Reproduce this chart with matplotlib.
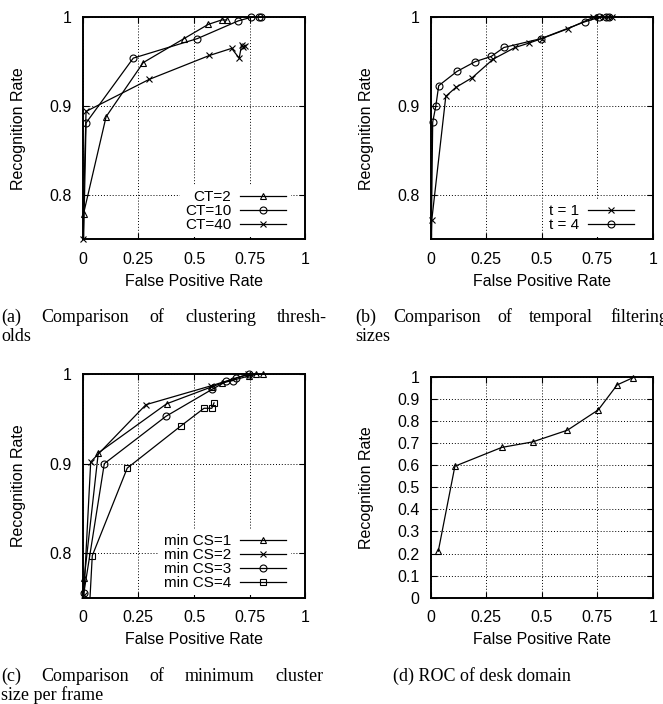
import matplotlib
matplotlib.use("Agg")
import matplotlib.pyplot as plt
from matplotlib.lines import Line2D
import numpy as np

# ---------------- data ----------------
# (a) clustering thresholds
ct2_x = [0.0, 0.004, 0.105, 0.272, 0.455, 0.564, 0.624, 0.647]
ct2_y = [0.70, 0.779, 0.888, 0.949, 0.976, 0.992, 0.997, 0.997]
ct10_x = [0.0, 0.015, 0.227, 0.515, 0.699, 0.757, 0.790, 0.802]
ct10_y = [0.70, 0.881, 0.954, 0.976, 0.996, 1.0, 1.0, 1.0]
ct40_x = [0.0, 0.015, 0.298, 0.569, 0.669, 0.703, 0.714, 0.722, 0.728]
ct40_y = [0.75, 0.894, 0.930, 0.957, 0.965, 0.954, 0.969, 0.966, 0.968]

# (b) temporal filtering sizes
t1_x = [0.0, 0.005, 0.068, 0.113, 0.187, 0.282, 0.380, 0.443, 0.500, 0.617, 0.733,
        0.760, 0.780, 0.800, 0.815]
t1_y = [0.70, 0.772, 0.911, 0.921, 0.932, 0.953, 0.966, 0.971, 0.976, 0.987, 1.0,
        1.0, 1.0, 1.0, 1.0]
t4_x = [0.0, 0.009, 0.023, 0.036, 0.118, 0.200, 0.273, 0.330, 0.497, 0.695, 0.760,
        0.790, 0.805]
t4_y = [0.70, 0.882, 0.900, 0.923, 0.939, 0.950, 0.956, 0.966, 0.976, 0.995, 1.0,
        1.0, 1.0]

# (c) minimum cluster size per frame
cs1_x = [0.007, 0.070, 0.377, 0.580, 0.624, 0.745, 0.780, 0.810]
cs1_y = [0.772, 0.912, 0.967, 0.986, 0.990, 0.998, 1.0, 1.0]
cs2_x = [0.005, 0.036, 0.284, 0.575, 0.744]
cs2_y = [0.753, 0.902, 0.966, 0.987, 1.0]
cs3_x = [0.005, 0.097, 0.374, 0.580, 0.645, 0.675, 0.690, 0.745]
cs3_y = [0.755, 0.900, 0.953, 0.983, 0.992, 0.993, 0.996, 1.0]
cs4_x = [0.022, 0.043, 0.200, 0.440, 0.545, 0.580, 0.590]
cs4_y = [0.700, 0.797, 0.895, 0.942, 0.962, 0.962, 0.968]

# (d) ROC of desk domain
desk_x = [0.034, 0.109, 0.320, 0.459, 0.616, 0.755, 0.840, 0.910]
desk_y = [0.21, 0.595, 0.68, 0.705, 0.758, 0.85, 0.963, 0.995]

x_ticks = [0, 0.25, 0.5, 0.75, 1]
x_tick_labels = ["0", "0.25", "0.5", "0.75", "1"]
y_ticks_top = [0.8, 0.9, 1.0]
y_tick_labels_top = ["0.8", "0.9", "1"]
y_ticks_d = [0, 0.1, 0.2, 0.3, 0.4, 0.5, 0.6, 0.7, 0.8, 0.9, 1.0]
y_tick_labels_d = ["0", "0.1", "0.2", "0.3", "0.4", "0.5", "0.6", "0.7", "0.8", "0.9", "1"]

captions = [
    ("(a) Comparison of clustering thresh-", "olds"),
    ("(b) Comparison of temporal filtering", "sizes"),
    ("(c) Comparison of minimum cluster", "size per frame"),
    ("(d) ROC of desk domain", None),
]

# ---------------- figure ----------------
W, H = 663, 704
fig = plt.figure(figsize=(W / 100, H / 100), dpi=100)
SANS = ["Liberation Sans", "DejaVu Sans"]
SERIF = ["Liberation Serif", "DejaVu Serif"]
plt.rcParams["font.family"] = SANS
FS = 11.5
LEG_FS = 11


def px_axes(left, top, right, bottom):
    return fig.add_axes([left / W, 1 - bottom / H, (right - left) / W, (bottom - top) / H])


def style(ax, ylim, yticks, ylabels):
    ax.set_xlim(0, 1)
    ax.set_ylim(*ylim)
    ax.set_xticks(x_ticks)
    ax.set_xticklabels(x_tick_labels)
    ax.set_yticks(yticks)
    ax.set_yticklabels(ylabels)
    ax.tick_params(direction="in", length=4, width=0.8, top=True, right=True,
                   labelsize=FS, colors="black")
    ax.tick_params(axis="x", pad=9)
    ax.tick_params(axis="y", pad=8)
    for s in ax.spines.values():
        s.set_linewidth(1.4)
    ax.grid(True, color="black", linestyle=(0, (1, 2)), linewidth=0.7)
    ax.set_axisbelow(True)
    ax.set_xlabel("False Positive Rate", fontsize=FS, labelpad=5)
    ax.set_ylabel("Recognition Rate", fontsize=FS, labelpad=17)


def series(ax, x, y, marker, ylim, label=None):
    x = np.asarray(x)
    y = np.asarray(y)
    ax.plot(x, y, "-", color="black", lw=0.9, clip_on=True, zorder=3)
    m = (y >= ylim[0] - 1e-9) & (y <= ylim[1] + 1e-9)
    ax.plot(x[m], y[m], linestyle="none", marker=marker, ms=5, mfc="none", mec="black",
            mew=0.8, clip_on=False, zorder=4)
    return Line2D([], [], color="black", lw=0.9, marker=marker, ms=5, mfc="none",
                  mec="black", mew=0.8, label=label)


def legend(ax, handles, anchor):
    leg = ax.legend(handles=handles, loc="lower right", bbox_to_anchor=anchor,
                    markerfirst=False, frameon=True, facecolor="white", edgecolor="none",
                    framealpha=1, fancybox=False, fontsize=LEG_FS, handlelength=3.0,
                    handletextpad=0.6, labelspacing=0.0, borderpad=0.3,
                    borderaxespad=0.0, numpoints=1)
    leg.set_zorder(5)


ylim_top = (0.75, 1.0)
LEG_ANCHOR = (0.935, 0.012)

# (a)
axa = px_axes(82.7, 17.3, 305.3, 239.3)
style(axa, ylim_top, y_ticks_top, y_tick_labels_top)
h = [series(axa, ct2_x, ct2_y, "^", ylim_top, "CT=2"),
     series(axa, ct10_x, ct10_y, "o", ylim_top, "CT=10"),
     series(axa, ct40_x, ct40_y, "x", ylim_top, "CT=40")]
legend(axa, h, LEG_ANCHOR)

# (b)
axb = px_axes(430.7, 17.3, 652.7, 239.3)
style(axb, ylim_top, y_ticks_top, y_tick_labels_top)
h = [series(axb, t1_x, t1_y, "x", ylim_top, "t = 1"),
     series(axb, t4_x, t4_y, "o", ylim_top, "t = 4")]
legend(axb, h, LEG_ANCHOR)

# (c)
axc = px_axes(82.7, 374.3, 305.3, 597.7)
style(axc, ylim_top, y_ticks_top, y_tick_labels_top)
h = [series(axc, cs1_x, cs1_y, "^", ylim_top, "min CS=1"),
     series(axc, cs2_x, cs2_y, "x", ylim_top, "min CS=2"),
     series(axc, cs3_x, cs3_y, "o", ylim_top, "min CS=3"),
     series(axc, cs4_x, cs4_y, "s", ylim_top, "min CS=4")]
legend(axc, h, LEG_ANCHOR)

# (d)
ylim_d = (0.0, 1.0)
axd = px_axes(430.7, 376.7, 652.7, 597.7)
style(axd, ylim_d, y_ticks_d, y_tick_labels_d)
series(axd, desk_x, desk_y, "^", ylim_d)

# captions (first line of multi-line captions is justified to the column width)
renderer = fig.canvas.get_renderer()
CAP_FS = 13


def justified(x0, y0, line, width):
    words = line.split(" ")
    texts = [fig.text(0, 1 - y0 / H, w, fontsize=CAP_FS, family=SERIF, ha="left",
                      va="baseline") for w in words]
    widths = [t.get_window_extent(renderer).width for t in texts]
    gap = (width - sum(widths)) / (len(words) - 1)
    x = x0
    for t, w in zip(texts, widths):
        t.set_x(x / W)
        x += w + gap


cap_pos = [(1, 322, 326), (355, 322, 313), (1, 681, 322), (393, 681, 0)]
for (l1, l2), (cx, cy, cw) in zip(captions, cap_pos):
    if l2:
        justified(cx, cy, l1, cw)
        fig.text(cx / W, 1 - (cy + 19) / H, l2, fontsize=CAP_FS, family=SERIF, ha="left",
                 va="baseline")
    else:
        fig.text(cx / W, 1 - cy / H, l1, fontsize=CAP_FS, family=SERIF, ha="left",
                 va="baseline")

fig.savefig("out.png", dpi=100)
